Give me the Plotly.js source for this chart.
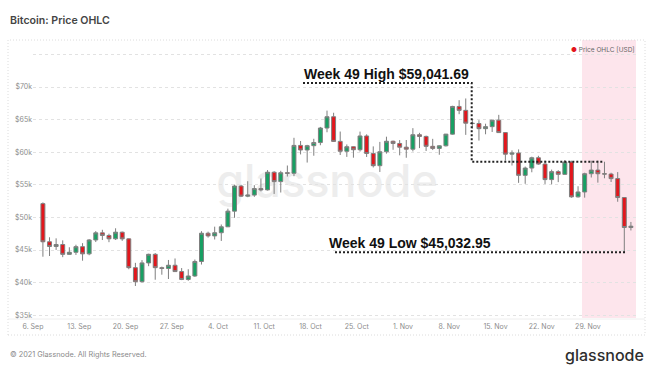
<!DOCTYPE html>
<html>
<head>
<meta charset="utf-8">
<script src="https://cdn.plot.ly/plotly-3.0.1.min.js"></script>
<style>html,body{margin:0;padding:0;background:#fff;}#chart{width:655px;height:378px;}</style>
</head>
<body>
<div id="chart"></div>
<script>
// ---- data (USD, daily candles) ----
const dates = ['2021-09-07','2021-09-08','2021-09-09','2021-09-10','2021-09-11','2021-09-12','2021-09-13','2021-09-14','2021-09-15','2021-09-16',
'2021-09-17','2021-09-18','2021-09-19','2021-09-20','2021-09-21','2021-09-22','2021-09-23','2021-09-24','2021-09-25','2021-09-26',
'2021-09-27','2021-09-28','2021-09-29','2021-09-30','2021-10-01','2021-10-02','2021-10-03','2021-10-04','2021-10-05','2021-10-06',
'2021-10-07','2021-10-08','2021-10-09','2021-10-10','2021-10-11','2021-10-12','2021-10-13','2021-10-14','2021-10-15','2021-10-16',
'2021-10-17','2021-10-18','2021-10-19','2021-10-20','2021-10-21','2021-10-22','2021-10-23','2021-10-24','2021-10-25','2021-10-26',
'2021-10-27','2021-10-28','2021-10-29','2021-10-30','2021-10-31','2021-11-01','2021-11-02','2021-11-03','2021-11-04','2021-11-05',
'2021-11-06','2021-11-07','2021-11-08','2021-11-09','2021-11-10','2021-11-11','2021-11-12','2021-11-13','2021-11-14','2021-11-15',
'2021-11-16','2021-11-17','2021-11-18','2021-11-19','2021-11-20','2021-11-21','2021-11-22','2021-11-23','2021-11-24','2021-11-25',
'2021-11-26','2021-11-27','2021-11-28','2021-11-29','2021-11-30','2021-12-01','2021-12-02','2021-12-03','2021-12-04','2021-12-05'];

const openP = [52110,46260,45540,45840,44330,44650,45510,44410,46540,47630,
47230,46720,47730,46710,42290,40140,43020,44340,42290,42170,
42660,41690,40480,41010,43240,47570,47160,47650,48560,50960,
54810,53260,53420,54420,54220,56930,55490,56850,56770,61040,
60340,61000,61480,63710,65440,61660,60140,60840,60380,62490,
59810,57930,60070,61680,61340,60770,60460,62680,62420,60900,
60580,60980,62770,67020,66420,64450,64400,63610,63920,64920,
63010,59700,59880,56450,57570,59150,58180,55800,57020,56600,
58500,53150,53900,56700,57260,56700,56650,55950,53050,48450];

const highP = [52300,46950,46790,46480,45420,45810,46050,46670,47900,48100,
47500,48330,47820,46780,43030,43450,44430,44530,42450,43470,
43700,42230,42050,43540,47890,47810,48580,48910,51340,55020,
55000,55550,54940,55960,57260,57090,57150,57960,62210,61720,
61130,62060,63880,66380,66050,63170,61190,60880,63160,62740,
60890,61580,62380,61780,61860,61870,63690,62970,62540,62050,
61040,62800,67120,67980,68240,65030,64910,64370,64950,65730,
63070,60280,60430,57800,59310,59450,58720,57330,57250,58800,
58700,54780,56850,58700,58700,58540,56850,56950,53100,49300];

const lowP = [43970,44080,45010,43900,44270,44240,43360,44200,46220,46530,
46200,46540,46400,42050,39480,40020,42520,40440,41210,40550,
41640,40380,40280,40890,42770,46900,46610,46390,48520,49940,
53120,53100,53150,53990,54120,53600,53820,56270,56320,59660,
58410,59460,61070,63060,61570,59570,59280,59160,60100,59270,
57660,56970,59780,60370,59520,59150,60120,60630,60190,60330,
59610,60880,62700,65830,62660,63630,61780,62750,63100,63000,
58700,57960,55300,55150,56920,58070,55130,55080,55410,56550,
53020,53050,53030,56120,55330,56000,55430,52400,44650,48000];

const closeP = [46260,45540,45840,44330,44650,45510,44410,46540,47630,47230,
46720,47730,46710,42290,40140,43020,44340,42290,42170,42660,
41690,40480,41010,43240,47570,47160,47650,48560,50960,54810,
53260,53420,54420,54220,56930,55490,56850,56770,61040,60340,
61000,61480,63710,65440,61660,60140,60840,60380,62490,59810,
57930,60070,61680,61340,60770,60460,62680,62420,60900,60580,
60980,62770,67020,66420,64450,64400,63610,63920,64920,63010,
59700,59880,56450,57570,59150,58180,55800,57020,56600,58500,
53150,53900,56700,57260,56700,56650,55950,53050,48450,48650];

const tickDates = ['2021-09-06','2021-09-13','2021-09-20','2021-09-27','2021-10-04','2021-10-11','2021-10-18','2021-10-25','2021-11-01','2021-11-08','2021-11-15','2021-11-22','2021-11-29'];
const tickLabels = ['6. Sep','13. Sep','20. Sep','27. Sep','4. Oct','11. Oct','18. Oct','25. Oct','1. Nov','8. Nov','15. Nov','22. Nov','29. Nov'];
const yTickVals = [35000,40000,45000,50000,55000,60000,65000,70000,75000];
const yTickLabels = ['$35k','$40k','$45k','$50k','$55k','$60k','$65k','$70k',''];

const title = 'Bitcoin: Price OHLC';
const seriesName = 'Price OHLC [USD]';
const highLabel = 'Week 49 High $59,041.69';
const lowLabel = 'Week 49 Low $45,032.95';

// ---- style ----
const RED = '#e3161c', GREEN = '#17a063', WICK = '#7f7f7f';
const L = 33, R = 636, T = 40, B = 318;
const px = x => (x - L) / (R - L);
const py = y => (B - y) / (B - T);

const trace = {
  type: 'candlestick',
  x: dates, open: openP, high: highP, low: lowP, close: closeP,
  xperiod: 86400000, xperiodalignment: 'middle',
  increasing: {line: {color: WICK, width: 1}, fillcolor: GREEN},
  decreasing: {line: {color: WICK, width: 1}, fillcolor: RED},
  whiskerwidth: 0, hoverinfo: 'skip', showlegend: false, name: seriesName
};

const wm = '<svg xmlns="http://www.w3.org/2000/svg" width="230" height="65" viewBox="0 0 230 65">' +
  '<text x="115" y="47" font-family="Inter" font-size="45" font-weight="500" fill="#ededed" text-anchor="middle">glassnode</text></svg>';

const dot = {color: '#222', width: 2, dash: '2px,2px'};

const layout = {
  width: 655, height: 378,
  margin: {l: L, r: 655 - R, t: T, b: 378 - B},
  paper_bgcolor: '#ffffff', plot_bgcolor: 'rgba(0,0,0,0)',
  font: {family: 'Inter, sans-serif', color: '#8c8c8c', size: 7},
  showlegend: false,
  boxgap: 0.15,
  xaxis: {
    type: 'date', range: ['2021-09-06 00:00', '2021-12-06 06:30'],
    rangeslider: {visible: false}, showgrid: false, zeroline: false, showline: false,
    tickmode: 'array', tickvals: tickDates, ticktext: tickLabels, ticks: '',
    ticklabelstandoff: 3,
    tickfont: {size: 7, color: '#8c8c8c'}, fixedrange: true
  },
  yaxis: {
    range: [34570, 77210], tickmode: 'array', tickvals: yTickVals, ticktext: yTickLabels,
    showgrid: true, gridcolor: '#e2e2e2', griddash: 'dot', gridwidth: 1, zeroline: false,
    ticks: '', tickfont: {size: 7, color: '#8c8c8c'}, fixedrange: true
  },
  images: [{
    source: 'data:image/svg+xml;charset=utf-8,' + encodeURIComponent(wm),
    xref: 'paper', yref: 'paper', x: px(212), y: py(150), sizex: 230 / (R - L), sizey: 65 / (B - T),
    xanchor: 'left', yanchor: 'top', sizing: 'stretch', layer: 'below'
  }],
  shapes: [
    {type: 'rect', xref: 'paper', yref: 'paper', x0: px(582), x1: 1, y0: 0, y1: 1,
     fillcolor: '#fde5ec', line: {width: 0}, layer: 'below'},
    {type: 'rect', xref: 'paper', yref: 'paper', x0: px(8), x1: px(645), y0: py(335), y1: py(40),
     line: {color: '#dcdcdc', width: 1, dash: '1px,2px'}, layer: 'below'},
    {type: 'line', xref: 'paper', yref: 'paper', x0: px(8), x1: px(645), y0: py(319), y1: py(319),
     line: {color: '#eeeeee', width: 1}, layer: 'below'},
    {type: 'path', xref: 'paper', yref: 'paper',
     path: 'M' + px(303) + ',' + py(83) + ' L' + px(471.7) + ',' + py(83) + ' L' + px(471.7) + ',' + py(161.7) + ' L' + px(603) + ',' + py(161.7),
     line: dot},
    {type: 'line', xref: 'paper', yref: 'paper', x0: px(335), x1: px(625), y0: py(252.3), y1: py(252.3), line: dot}
  ],
  annotations: [
    {text: title, xref: 'paper', yref: 'paper', x: px(8), y: py(20), xanchor: 'left', yanchor: 'middle',
     showarrow: false, font: {family: 'Inter, sans-serif', size: 10.6, color: '#454545', weight: 600}},
    {text: '<span style="color:' + RED + '">●</span> ' + seriesName, xref: 'paper', yref: 'paper',
     x: px(637), y: py(50), xanchor: 'right', yanchor: 'middle', showarrow: false,
     font: {family: 'Inter, sans-serif', size: 6.5, color: '#666'}},
    {text: highLabel, xref: 'paper', yref: 'paper', x: px(386.5), y: py(74), xanchor: 'center', yanchor: 'middle',
     showarrow: false, font: {family: 'Liberation Sans, Arial, sans-serif', size: 14, color: '#111', weight: 700}},
    {text: lowLabel, xref: 'paper', yref: 'paper', x: px(410), y: py(243), xanchor: 'center', yanchor: 'middle',
     showarrow: false, font: {family: 'Liberation Sans, Arial, sans-serif', size: 14, color: '#111', weight: 700}},
    {text: '© 2021 Glassnode. All Rights Reserved.', xref: 'paper', yref: 'paper', x: px(8), y: py(354),
     xanchor: 'left', yanchor: 'middle', showarrow: false, font: {family: 'Inter, sans-serif', size: 7.3, color: '#8a8a8a'}},
    {text: 'glassnode', xref: 'paper', yref: 'paper', x: px(646), y: py(355), xanchor: 'right', yanchor: 'middle',
     showarrow: false, font: {family: 'Inter, sans-serif', size: 16, color: '#2e2e2e', weight: 500}}
  ]
};

Plotly.newPlot('chart', [trace], layout, {staticPlot: true, displayModeBar: false});
</script>
</body>
</html>
